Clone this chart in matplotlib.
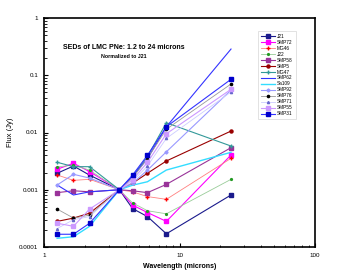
import matplotlib
matplotlib.use("Agg")
import matplotlib.pyplot as plt
from matplotlib.ticker import LogLocator, NullFormatter, FixedLocator, FixedFormatter

plt.rcParams['font.family'] = ['Liberation Sans', 'DejaVu Sans']

wavelengths = [1.25, 1.65, 2.17, 3.6, 4.5, 5.8, 8.0, 24.0]

names = ["J21", "SMP72", "MG46", "J22", "SMP58", "SMP5", "MG47", "SMP62",
         "Sa109", "SMP92", "SMP76", "SMP71", "SMP55", "SMP31"]

J21   = [0.00194, 0.0026, 0.0018, 0.001, 0.00047, 0.00034, 0.00017, 0.00081]
SMP72 = [0.00228, 0.0029, 0.00207, 0.001, 0.00054, 0.0004, 0.00028, 0.00404]
MG46  = [0.00181, 0.00146, 0.00152, 0.001, 0.00092, 0.00076, 0.00068, 0.00354]
J22   = [0.0025, 0.0027, 0.0022, 0.001, 0.00059, 0.00043, 0.00038, 0.00152]
SMP58 = [0.00089, 0.00096, 0.00092, 0.001, 0.00096, 0.00089, 0.00124, 0.00543]
SMP5  = [0.00028, 0.00032, 0.00039, 0.001, 0.0013, 0.00194, 0.00318, 0.0106]
MG47  = [0.00302, 0.00253, 0.00253, 0.001, 0.0017, 0.0038, 0.0148, 0.0058]
SMP62 = [0.00121, 0.00081, 0.00092, 0.001, 0.0017, 0.0035, 0.0126, 0.287]
Sa109 = [0.000142, 0.000151, 0.00023, 0.001, 0.0012, 0.00138, 0.00221, 0.00451]
SMP92 = [0.00121, 0.00186, 0.0016, 0.001, 0.0013, 0.0022, 0.0046, 0.055]
SMP76 = [0.00046, 0.00032, 0.00036, 0.001, 0.0016, 0.0035, 0.0114, 0.0703]
SMP71 = [0.00021, 0.0003, 0.00034, 0.001, 0.0014, 0.0026, 0.0079, 0.051]
SMP55 = [0.00026, 0.00023, 0.00046, 0.001, 0.0015, 0.003, 0.0095, 0.0568]
SMP31 = [0.000167, 0.000167, 0.00026, 0.001, 0.0018, 0.004, 0.0126, 0.085]

series = [J21, SMP72, MG46, J22, SMP58, SMP5, MG47, SMP62,
          Sa109, SMP92, SMP76, SMP71, SMP55, SMP31]

styles = [
    dict(color="#1a1a8c", marker="s", ms=2.5, lw=0.8),
    dict(color="#ff00ff", marker="s", ms=2.5, lw=0.8),
    dict(color="#ff8080", marker="+", ms=2.5, lw=0.6, mec="#ff0000"),
    dict(color="#99cc99", marker="o", ms=1.3, lw=0.6, mec="#229922", mfc="#229922"),
    dict(color="#993399", marker="s", ms=2.2, lw=0.8),
    dict(color="#990000", marker="o", ms=2.2, lw=0.8),
    dict(color="#339999", marker="+", ms=2.5, lw=0.8),
    dict(color="#3333ff", marker="None", lw=0.8),
    dict(color="#33ddff", marker="None", lw=1.0),
    dict(color="#9999ff", marker="D", ms=1.6, lw=0.8),
    dict(color="#999999", marker="o", ms=1.6, lw=0.6, mfc="black", mec="black"),
    dict(color="#ccccff", marker="^", ms=1.6, lw=0.6, mfc="#6666cc", mec="#6666cc"),
    dict(color="#cc99ff", marker="s", ms=2.2, lw=0.8),
    dict(color="#3333ff", marker="s", ms=2.2, lw=0.8, mfc="#0000cc", mec="#0000cc"),
]

fig = plt.figure(figsize=(3.41, 2.78), dpi=100)
ax = fig.add_axes([44/341, 31/278, 271/341, 229/278])

for name, vals, st in zip(names, series, styles):
    ax.plot(wavelengths, vals, label=name, **st)

ax.set_xscale("log")
ax.set_yscale("log")
ax.set_xlim(1, 100)
ax.set_ylim(0.0001, 1)

ax.xaxis.set_major_locator(FixedLocator([1, 10, 100]))
ax.xaxis.set_major_formatter(FixedFormatter(["1", "10", "100"]))
ax.xaxis.set_minor_locator(LogLocator(base=10, subs=range(2, 10)))
ax.xaxis.set_minor_formatter(NullFormatter())
ax.yaxis.set_major_locator(FixedLocator([0.0001, 0.001, 0.01, 0.1, 1]))
ax.yaxis.set_major_formatter(FixedFormatter(["0.0001", "0.001", "0.01", "0.1", "1"]))
ax.yaxis.set_minor_locator(LogLocator(base=10, subs=range(2, 10)))
ax.yaxis.set_minor_formatter(NullFormatter())

ax.tick_params(which="both", direction="in", top=False, right=False, labelsize=4.5, pad=4)
ax.tick_params(which="major", length=3, width=0.8)
ax.tick_params(which="minor", length=1.8, width=0.6)
for s in ax.spines.values():
    s.set_linewidth(1.2)

ax.set_xlabel("Wavelength (microns)", fontsize=5, fontweight="bold", labelpad=4)
ax.set_ylabel("Flux (Jy)", fontsize=5.5, labelpad=4)

ax.text(0.296, 0.869, "SEDs of LMC PNe: 1.2 to 24 microns", transform=ax.transAxes,
        fontsize=5, fontweight="bold", ha="center", va="center")
ax.text(0.296, 0.83, "Normalized to J21", transform=ax.transAxes,
        fontsize=3.8, fontweight="bold", ha="center", va="center")

leg = ax.legend(loc="upper left", bbox_to_anchor=(0.79, 0.943), fontsize=3.4,
                frameon=True, fancybox=False, borderaxespad=0, labelspacing=0.2,
                handlelength=3.0, handletextpad=0.4, borderpad=0.6, handleheight=0.5)
leg.get_frame().set_edgecolor("#cccccc")
leg.get_frame().set_linewidth(0.5)

fig.savefig("out.png", dpi=100)
